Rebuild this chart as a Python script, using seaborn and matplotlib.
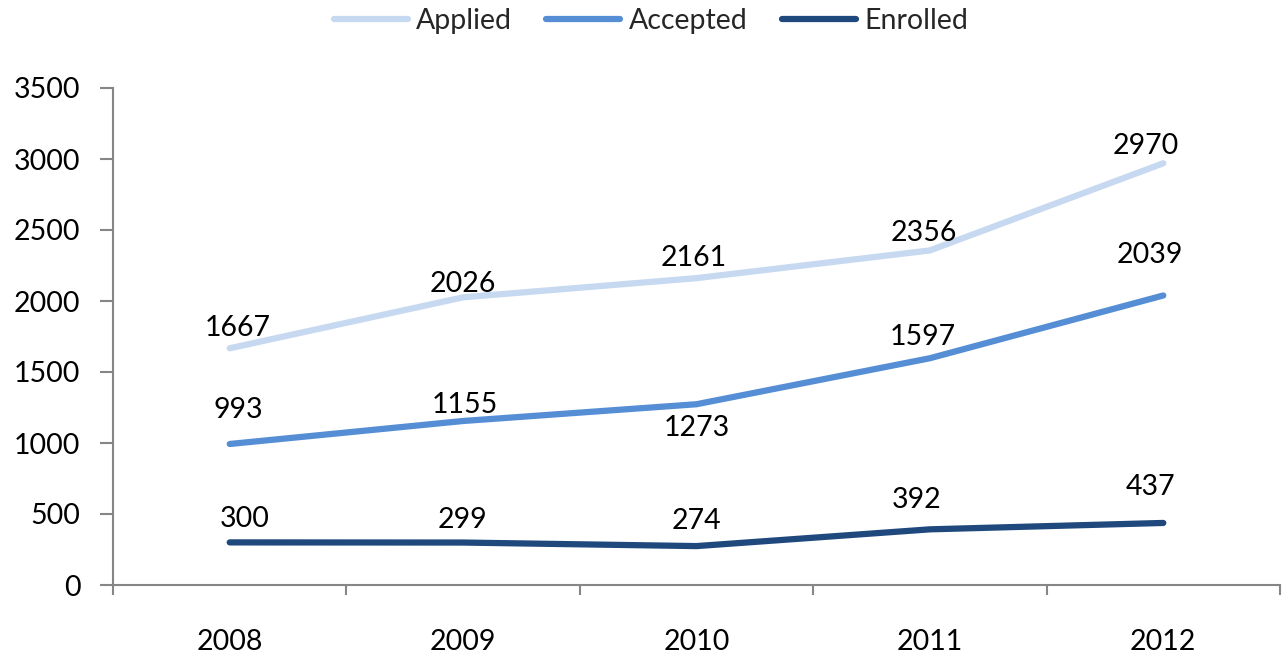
import matplotlib
matplotlib.use("Agg")
import matplotlib.pyplot as plt
from matplotlib.ticker import MultipleLocator, FixedLocator
import seaborn as sns
import pandas as pd

years = ["2008", "2009", "2010", "2011", "2012"]
applied = [1667, 2026, 2161, 2356, 2970]
accepted = [993, 1155, 1273, 1597, 2039]
enrolled = [300, 299, 274, 392, 437]
series_names = ["Applied", "Accepted", "Enrolled"]

colors = {"Applied": "#C6D9F1", "Accepted": "#558ED5", "Enrolled": "#1F497D"}
# label offsets in pixels (dx, dy) relative to each point
label_offsets = {
    "Applied": [(8, 20), (0, 13), (-3, 20), (-6, 17), (-18, 17)],
    "Accepted": [(9, 34), (2, 16), (0, -24), (-7, 21), (-13, 40)],
    "Enrolled": [(15, 23), (-1, 23), (0, 25), (-13, 29), (-13, 36)],
}

sns.set_theme(style="white")
plt.rcParams["font.family"] = ["Lato", "DejaVu Sans"]
FS = 20.5

rows = []
for name, vals in zip(series_names, [applied, accepted, enrolled]):
    for i, (yr, v) in enumerate(zip(years, vals)):
        rows.append({"idx": i, "Year": yr, "Value": v, "Series": name})
df = pd.DataFrame(rows)

fig = plt.figure(figsize=(12.88, 6.58), dpi=100)
ax = fig.add_axes([113 / 1288, 1 - 585 / 658, (1280 - 113) / 1288, (585 - 88) / 658])

sns.lineplot(data=df, x="idx", y="Value", hue="Series", hue_order=series_names,
             palette=colors, linewidth=4.5, ax=ax, sort=False, legend=True)
for line in ax.get_lines():
    line.set_solid_capstyle("round")

for name, vals in zip(series_names, [applied, accepted, enrolled]):
    for i, v in enumerate(vals):
        dx, dy = label_offsets[name][i]
        ax.annotate(str(v), (i, v), xytext=(dx, dy), textcoords="offset pixels",
                    ha="center", va="center", fontsize=FS, color="black")

ax.set_xlim(-0.5, 4.5)
ax.set_ylim(0, 3500)
ax.yaxis.set_major_locator(MultipleLocator(500))
ax.xaxis.set_major_locator(FixedLocator(range(len(years))))
ax.set_xticklabels(years)
ax.xaxis.set_minor_locator(FixedLocator([i - 0.5 for i in range(len(years) + 1)]))
ax.set_xlabel("")
ax.set_ylabel("")

for side in ["top", "right"]:
    ax.spines[side].set_visible(False)
for side in ["left", "bottom"]:
    ax.spines[side].set_color("#868686")
    ax.spines[side].set_linewidth(1.5)

ax.tick_params(axis="y", which="major", direction="out", length=9.5, width=1.5,
               color="#868686", labelsize=FS, pad=14, left=True)
ax.tick_params(axis="x", which="major", length=0, labelsize=FS, pad=32, bottom=True)
ax.tick_params(axis="x", which="minor", direction="out", length=7.5, width=1.5,
               color="#868686", bottom=True)
for lbl in ax.get_xticklabels() + ax.get_yticklabels():
    lbl.set_color("black")

handles, labels = ax.get_legend_handles_labels()
leg = ax.legend(handles, labels, loc="center", bbox_to_anchor=(651 / 1288, 1 - 21 / 658),
                bbox_transform=fig.transFigure, ncol=3, frameon=False, fontsize=FS,
                handlelength=2.6, handletextpad=0.3, columnspacing=1.2)
for h in leg.get_lines():
    h.set_linewidth(4.5)
    h.set_solid_capstyle("round")

fig.savefig("out.png", dpi=100)
